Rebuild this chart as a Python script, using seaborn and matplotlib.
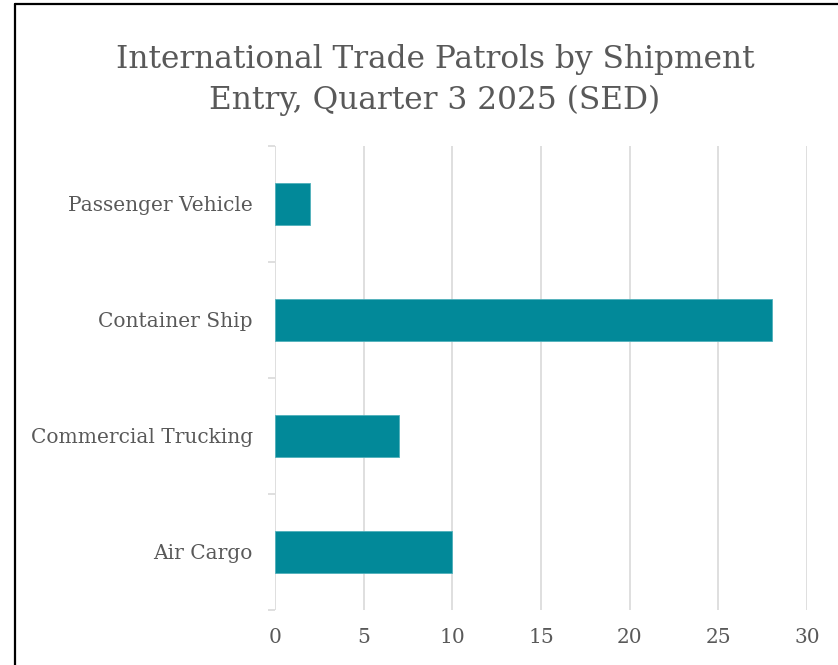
import matplotlib
matplotlib.use("Agg")
import matplotlib.pyplot as plt
import seaborn as sns
import pandas as pd
from matplotlib.lines import Line2D

# data, top to bottom as shown
categories = ["Passenger Vehicle", "Container Ship", "Commercial Trucking", "Air Cargo"]
patrols = [2, 28, 7, 10]
x_ticks = [0, 5, 10, 15, 20, 25, 30]

TITLE = "International Trade Patrols by Shipment\nEntry, Quarter 3 2025 (SED)"
BAR_COLOR = "#028999"
TEXT_COLOR = "#595959"
GRID_COLOR = "#d9d9d9"

sns.set_theme(style="white")
plt.rcParams["font.family"] = ["DejaVu Serif", "Liberation Serif"]

df = pd.DataFrame({"entry": categories, "patrols": patrols})

fig = plt.figure(figsize=(8.38, 6.65), dpi=100)
ax = fig.add_axes([0.3282, 0.0827, 0.963 - 0.3282, 0.7805 - 0.0827])

sns.barplot(data=df, y="entry", x="patrols", order=categories, orient="h",
            color=BAR_COLOR, width=0.355, saturation=1,
            edgecolor="#4fb0bb", linewidth=0.6, ax=ax, zorder=3)

ax.set_xlim(0, 30)
ax.set_ylim(len(categories) - 0.5, -0.5)
ax.set_xticks(x_ticks)
ax.xaxis.grid(True, color=GRID_COLOR, linewidth=1.2, zorder=0)
ax.set_axisbelow(True)
for s in ax.spines.values():
    s.set_visible(False)
ax.set_xlabel("")
ax.set_ylabel("")

# category separators as small ticks on the left
ax.set_yticks([i - 0.5 for i in range(len(categories) + 1)], minor=True)
ax.tick_params(axis="y", which="minor", length=5, width=1.2, color=GRID_COLOR, left=True)
ax.tick_params(axis="y", which="major", length=0, pad=16, labelsize=14.5, labelcolor=TEXT_COLOR)
ax.tick_params(axis="x", length=0, pad=13, labelsize=14.5, labelcolor=TEXT_COLOR)

fig.text(0.519, 0.88, TITLE, ha="center", va="center", fontsize=22.5,
         color=TEXT_COLOR, linespacing=1.42)

# screenshot frame on left and top
fig.add_artist(Line2D([15 / 838, 15 / 838], [0, 1 - 4 / 665], transform=fig.transFigure,
                      color="black", linewidth=1.6))
fig.add_artist(Line2D([15 / 838, 1], [1 - 4 / 665, 1 - 4 / 665], transform=fig.transFigure,
                      color="black", linewidth=1.6))

fig.savefig("out.png", dpi=100, facecolor="white")
